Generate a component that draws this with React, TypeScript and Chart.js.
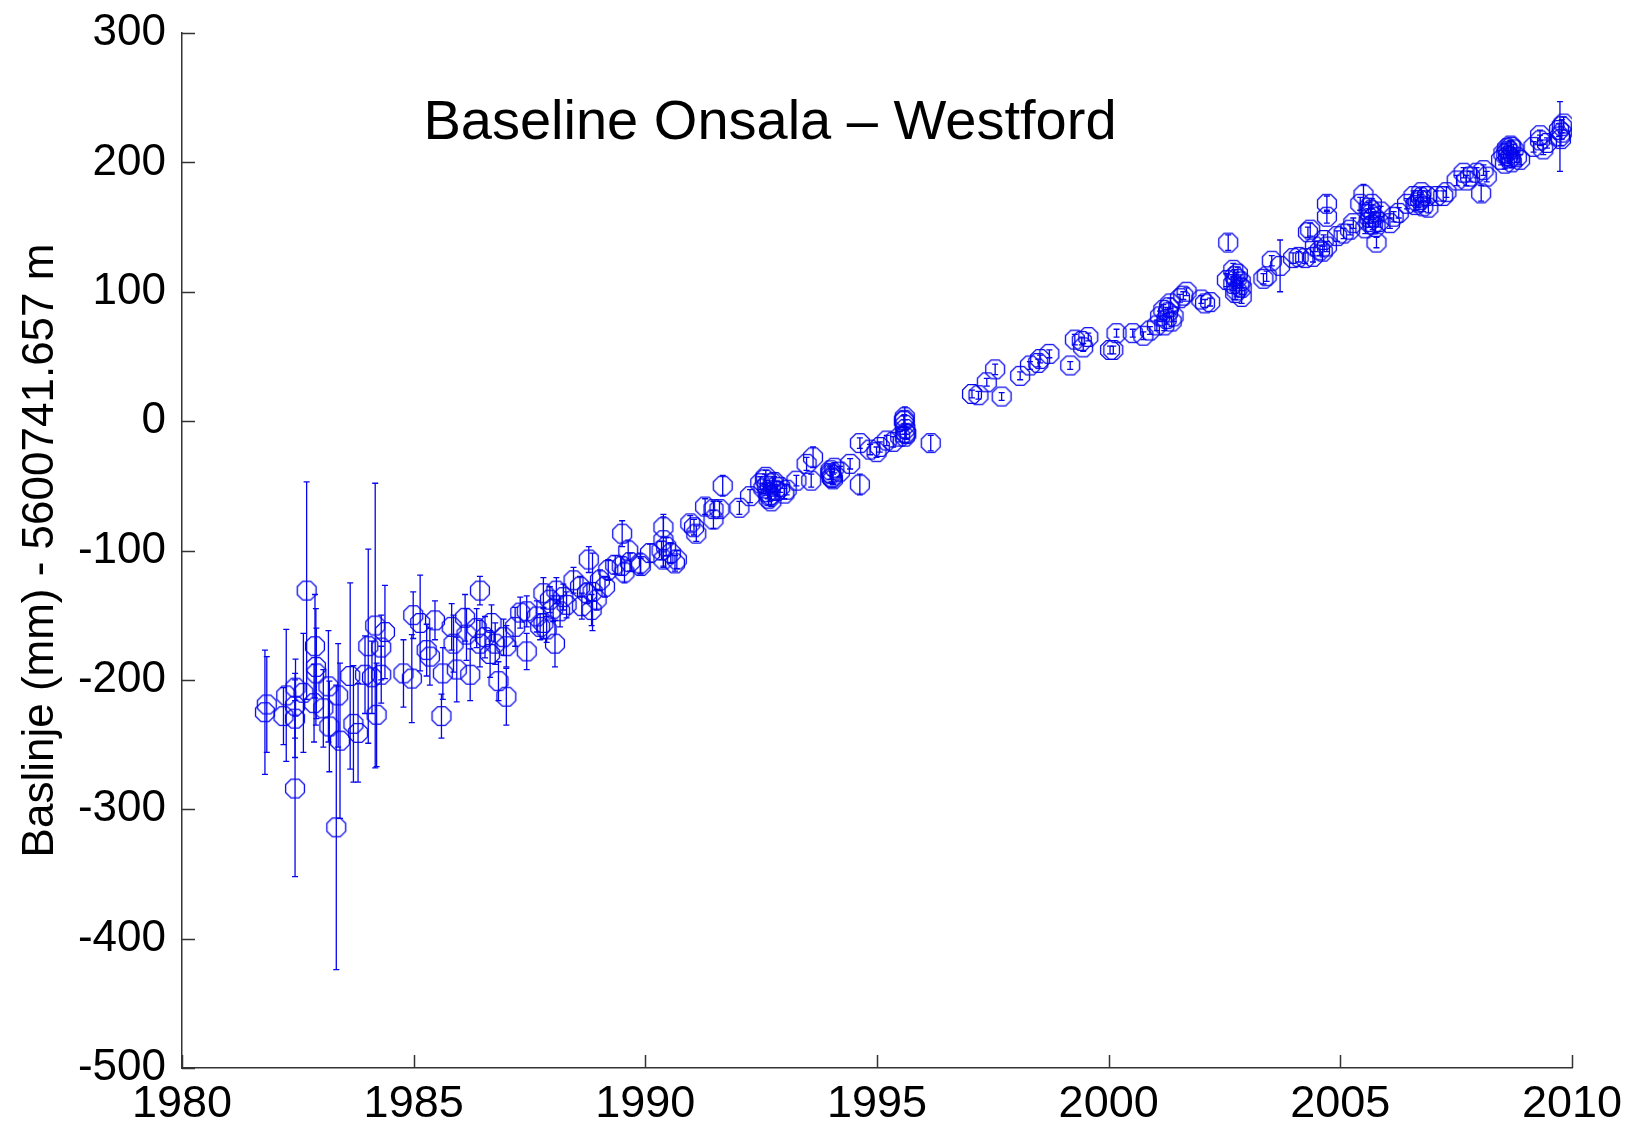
import React, { useEffect, useRef } from "react";
import { Chart, registerables } from "chart.js";

Chart.register(...registerables);

// Decimal year of each VLBI session
const epochs = [
  1981.79, 1981.83, 1982.19, 1982.25, 1982.44, 1982.44, 1982.45, 1982.44, 1982.62, 1982.69,
  1982.85, 1982.87, 1982.89, 1982.9, 1983.05, 1983.16, 1983.18, 1983.33, 1983.37, 1983.41,
  1983.63, 1983.7, 1983.8, 1983.95, 1984.02, 1984.1, 1984.17, 1984.2, 1984.3, 1984.3,
  1984.38, 1984.78, 1984.96, 1984.99, 1985.14, 1985.28, 1985.35, 1985.46, 1985.6, 1985.63,
  1985.82, 1985.86, 1985.93, 1986.11, 1986.14, 1986.22, 1986.36, 1986.43, 1986.43, 1986.54,
  1986.65, 1986.68, 1986.76, 1986.83, 1986.94, 1987.0, 1987.0, 1987.19, 1987.3, 1987.44,
  1987.44, 1987.66, 1987.73, 1987.8, 1987.8, 1987.87, 1987.94, 1988.01, 1988.05, 1988.08,
  1988.16, 1988.23, 1988.3, 1988.45, 1988.59, 1988.63, 1988.74, 1988.78, 1988.84, 1988.86,
  1988.95, 1989.02, 1989.13, 1989.2, 1989.35, 1989.49, 1989.5, 1989.55, 1989.63, 1989.67,
  1989.89, 1989.9, 1990.1, 1990.35, 1990.39, 1990.39, 1990.39, 1990.45, 1990.55, 1990.64,
  1990.68, 1990.97, 1991.05, 1991.1, 1991.29, 1991.47, 1991.47, 1991.6, 1991.67, 1992.03,
  1992.26, 1992.48, 1992.55, 1992.6, 1992.64, 1992.66, 1992.7, 1992.75, 1992.8, 1992.91,
  1993.0, 1993.05, 1993.26, 1993.48, 1993.58, 1993.62, 1993.99, 1994.0, 1994.02, 1994.05,
  1994.2, 1994.42, 1994.63, 1994.63, 1994.85, 1994.99, 1995.06, 1995.21, 1995.35, 1995.5,
  1995.58, 1995.6, 1995.6, 1995.62, 1995.6, 1996.16,
  1997.05, 1997.19, 1997.37, 1997.55, 1997.69, 1998.09, 1998.3, 1998.48, 1998.52, 1998.72,
  1999.17, 1999.27, 1999.42, 1999.45, 1999.56, 2000.03, 2000.1, 2000.17, 2000.52, 2000.75,
  2000.89, 2001.04, 2001.11, 2001.18, 2001.2, 2001.25, 2001.33, 2001.4, 2001.54, 2001.61,
  2001.68, 2002.0, 2002.08, 2002.19, 2002.55, 2002.58, 2002.69, 2002.69, 2002.72, 2002.76,
  2002.85, 2002.87, 2002.87, 2003.34, 2003.41, 2003.52, 2003.7, 2003.98, 2004.1, 2004.24,
  2004.3, 2004.35, 2004.41, 2004.45, 2004.56, 2004.62, 2004.64, 2004.71, 2004.71, 2004.71,
  2004.93, 2005.07, 2005.21, 2005.28, 2005.43, 2005.5, 2005.54, 2005.61, 2005.61, 2005.65,
  2005.68, 2005.72, 2005.76, 2005.78, 2005.83, 2005.87, 2006.07, 2006.15, 2006.26, 2006.44,
  2006.58, 2006.62, 2006.72, 2006.75, 2006.79, 2006.87, 2006.9, 2007.08, 2007.22, 2007.29,
  2007.51, 2007.66, 2007.72, 2007.8, 2007.94, 2008.04, 2008.09, 2008.16, 2008.47, 2008.52,
  2008.55, 2008.6, 2008.62, 2008.67, 2008.67, 2008.7, 2008.74, 2008.81, 2008.88, 2009.17,
  2009.31, 2009.31, 2009.38, 2009.46, 2009.74, 2009.78, 2009.78, 2009.82,
  1992.58, 1992.62, 1992.68, 1992.72, 1992.78, 1992.84, 1994.01, 1994.03, 1994.08, 1995.59,
  1995.61, 1995.63, 2001.28, 2001.3, 2001.36, 2002.73, 2002.76, 2002.79, 2002.82, 2005.63,
  2005.66, 2005.7, 2006.68, 2006.74, 2008.58, 2008.63, 2008.65, 2008.69, 2009.72, 2009.76,
];

// Baseline length minus 5600741.657 m, in mm
const baselines = [
  -225, -219, -228, -212, -230, -220, -206, -284, -210, -131,
  -218, -174, -190, -195, -222, -205, -236, -314, -212, -247,
  -197, -234, -241, -196, -174, -198, -158, -227, -196, -175,
  -163, -195, -199, -150, -156, -177, -182, -154, -228, -195,
  -159, -172, -192, -152, -165, -196, -160, -131, -172, -167,
  -180, -156, -172, -201, -167, -213, -174, -159, -148, -147,
  -178, -151, -159, -156, -133, -161, -138, -145, -172, -131,
  -147, -136, -142, -123, -128, -143, -133, -107, -146, -132,
  -138, -123, -128, -115, -111, -112, -87, -117, -100, -109,
  -110, -112, -102, -100, -82, -92, -107, -97, -102, -110,
  -107, -79, -82, -87, -66, -76, -68, -68, -50, -67,
  -58, -48, -52, -43, -55, -60, -57, -48, -53, -51,
  -56, -53, -46, -33, -46, -28, -40, -38, -43, -45,
  -39, -33, -49, -17, -22, -24, -20, -15, -16, -12,
  0, 3, -3, -9, -12, -17,
  21, 20, 30, 40, 19, 35, 43, 45, 48, 52,
  43, 63, 62, 57, 65, 55, 55, 68, 68, 66,
  70, 74, 81, 86, 74, 79, 91, 81, 95, 97,
  100, 94, 91, 92, 109, 138, 117, 106, 112, 101,
  108, 96, 103, 110, 112, 124, 120, 126, 127, 126,
  146, 148, 127, 135, 132, 131, 140, 135, 158, 168,
  143, 145, 148, 153, 168, 175, 149, 154, 165, 160,
  168, 158, 150, 138, 154, 162, 153, 158, 161, 168,
  174, 167, 171, 177, 166, 174, 165, 174, 174, 177,
  186, 192, 186, 189, 192, 176, 194, 189, 202, 207,
  199, 211, 205, 204, 213, 200, 210, 204, 202, 212,
  217, 221, 210, 215, 220, 228, 223, 230,
  -45, -50, -58, -62, -47, -54, -41, -44, -36, 1,
  -6, -10, 84, 88, 77, 99, 110, 114, 104, 157,
  163, 152, 169, 173, 207, 209, 203, 212, 225, 218,
];

// Formal 1-sigma uncertainty of each session, in mm
const sigmas = [
  48, 37, 22, 51, 30, 25, 22, 68, 46, 84,
  30, 40, 45, 35, 30, 43, 35, 110, 40, 60,
  72, 45, 38, 30, 75, 28, 110, 40, 22, 25,
  36, 26, 34, 18, 37, 20, 22, 15, 17, 20,
  18, 22, 25, 18, 20, 20, 15, 11, 18, 16,
  18, 14, 16, 15, 14, 22, 16, 15, 12, 12,
  14, 12, 10, 12, 12, 10, 10, 10, 18, 10,
  12, 10, 10, 10, 8, 10, 8, 10, 12, 30,
  8, 8, 8, 8, 7, 7, 10, 8, 8, 7,
  8, 6, 7, 7, 8, 20, 6, 7, 8, 6,
  7, 6, 6, 6, 6, 7, 6, 6, 8, 5,
  5, 5, 4, 5, 5, 5, 4, 4, 4, 4,
  4, 4, 4, 5, 5, 8, 5, 4, 4, 4,
  4, 4, 8, 4, 4, 4, 4, 4, 4, 4,
  4, 8, 4, 4, 5, 6,
  3, 3, 3, 4, 3, 3, 3, 3, 3, 3,
  3, 4, 3, 3, 3, 3, 3, 3, 3, 3,
  3, 4, 4, 4, 4, 4, 4, 4, 3, 3,
  3, 3, 3, 3, 5, 6, 5, 5, 5, 5,
  5, 5, 5, 4, 4, 4, 20, 4, 4, 4,
  4, 5, 4, 4, 4, 4, 4, 4, 5, 6,
  4, 4, 4, 4, 5, 8, 4, 4, 4, 4,
  4, 4, 4, 4, 4, 4, 4, 4, 4, 4,
  4, 4, 4, 4, 4, 4, 4, 4, 4, 4,
  4, 4, 4, 4, 4, 6, 4, 4, 4, 4,
  4, 4, 4, 4, 4, 4, 4, 4, 4, 4,
  4, 4, 4, 4, 27, 5, 5, 5,
  4, 4, 4, 4, 4, 4, 4, 4, 4, 4,
  4, 4, 4, 4, 4, 5, 5, 5, 5, 4,
  4, 4, 4, 4, 4, 4, 4, 4, 5, 5,
];

const xTicks = [1980, 1985, 1990, 1995, 2000, 2005, 2010];
const yTicks = [-500, -400, -300, -200, -100, 0, 100, 200, 300];

const CHART_TITLE = "Baseline Onsala \u2013 Westford";
const Y_TITLE = "Baslinje (mm) - 5600741.657 m";

const MARK = "#0606ee";
const AXIS = "#333333";
const FONT = "'Liberation Sans', Arial, Helvetica, sans-serif";

// Open octagon marker, like the classic plotting 'o' symbol
function makeOctagon(): HTMLCanvasElement {
  const size = 26;
  const c = document.createElement("canvas");
  c.width = size;
  c.height = size;
  const g = c.getContext("2d")!;
  const R = 10.2;
  g.strokeStyle = MARK;
  g.lineWidth = 1.3;
  g.beginPath();
  for (let k = 0; k < 8; k++) {
    const a = Math.PI / 8 + (k * Math.PI) / 4;
    const px = size / 2 + R * Math.cos(a);
    const py = size / 2 + R * Math.sin(a);
    if (k === 0) g.moveTo(px, py);
    else g.lineTo(px, py);
  }
  g.closePath();
  g.stroke();
  return c;
}

const errorBars = {
  id: "errorBars",
  beforeDatasetsDraw(chart: any) {
    const { ctx, chartArea: a } = chart;
    const x = chart.scales.x;
    const y = chart.scales.y;
    ctx.save();
    ctx.beginPath();
    ctx.rect(a.left, a.top, a.right - a.left, a.bottom - a.top);
    ctx.clip();
    ctx.strokeStyle = MARK;
    ctx.lineWidth = 1.3;
    const cap = 3;
    epochs.forEach((t, i) => {
      const px = x.getPixelForValue(t);
      const top = y.getPixelForValue(baselines[i] + sigmas[i]);
      const bot = y.getPixelForValue(baselines[i] - sigmas[i]);
      ctx.beginPath();
      ctx.moveTo(px, top);
      ctx.lineTo(px, bot);
      ctx.moveTo(px - cap, top);
      ctx.lineTo(px + cap, top);
      ctx.moveTo(px - cap, bot);
      ctx.lineTo(px + cap, bot);
      ctx.stroke();
    });
    ctx.restore();
  },
};

// Tick marks pointing into the plot area, plus the title text
const axesDecor = {
  id: "axesDecor",
  afterDraw(chart: any) {
    const { ctx, chartArea: a } = chart;
    const x = chart.scales.x;
    const y = chart.scales.y;
    const len = 13;
    ctx.save();
    ctx.strokeStyle = AXIS;
    ctx.lineWidth = 1.5;
    ctx.beginPath();
    xTicks.forEach((v) => {
      const px = Math.round(x.getPixelForValue(v)) + 0.5;
      ctx.moveTo(px, a.bottom);
      ctx.lineTo(px, a.bottom - len);
    });
    yTicks.forEach((v) => {
      const py = Math.round(y.getPixelForValue(v)) + 0.5;
      ctx.moveTo(a.left, py);
      ctx.lineTo(a.left + len, py);
    });
    ctx.stroke();

    ctx.fillStyle = "#000";
    ctx.font = `56px ${FONT}`;
    ctx.textAlign = "center";
    ctx.textBaseline = "alphabetic";
    ctx.fillText(CHART_TITLE, a.left + 588, a.top + 106);
    ctx.restore();
  },
};

export default function App() {
  const canvasRef = useRef<HTMLCanvasElement | null>(null);

  useEffect(() => {
    const canvas = canvasRef.current;
    if (!canvas) return;
    const marker = makeOctagon();
    const points = epochs.map((t, i) => ({ x: t, y: baselines[i] }));

    const chart = new Chart(canvas, {
      type: "scatter",
      data: {
        datasets: [
          {
            data: points,
            pointStyle: marker as any,
            pointRadius: 10,
            borderColor: MARK,
            backgroundColor: "transparent",
            showLine: false,
          },
        ],
      },
      options: {
        animation: false,
        responsive: false,
        events: [],
        layout: { padding: { left: 0, right: 60, top: 33, bottom: 0 } },
        plugins: {
          legend: { display: false },
          tooltip: { enabled: false },
          title: { display: false },
        },
        scales: {
          x: {
            type: "linear",
            min: 1980,
            max: 2010,
            afterBuildTicks: (scale: any) => {
              scale.ticks = xTicks.map((v) => ({ value: v }));
            },
            afterFit: (scale: any) => {
              scale.height = 59;
              scale.paddingLeft = 0;
              scale.paddingRight = 0;
            },
            grid: { display: false, drawTicks: false },
            border: { display: true, color: AXIS, width: 1.5 },
            ticks: {
              autoSkip: false,
              maxRotation: 0,
              padding: 10,
              color: "#000",
              font: { family: FONT, size: 45 },
              callback: (v: any) => String(v),
            },
          },
          y: {
            type: "linear",
            min: -500,
            max: 300,
            afterBuildTicks: (scale: any) => {
              scale.ticks = yTicks.map((v) => ({ value: v }));
            },
            afterFit: (scale: any) => {
              scale.width = 182;
              scale.paddingTop = 0;
              scale.paddingBottom = 0;
            },
            grid: { display: false, drawTicks: false },
            border: { display: true, color: AXIS, width: 1.5 },
            ticks: {
              autoSkip: false,
              padding: 16,
              color: "#000",
              font: { family: FONT, size: 44 },
              callback: (v: any) => String(v),
            },
            title: {
              display: true,
              text: Y_TITLE,
              color: "#000",
              font: { family: FONT, size: 44 },
              padding: { top: 14, bottom: 0 },
            },
          },
        },
      },
      plugins: [errorBars, axesDecor],
    });

    return () => chart.destroy();
  }, []);

  return (
    <div
      style={{
        position: "fixed",
        left: 0,
        top: 0,
        width: 1632,
        height: 1127,
        background: "#fff",
      }}
    >
      <canvas ref={canvasRef} width={1632} height={1127} style={{ display: "block" }} />
    </div>
  );
}
